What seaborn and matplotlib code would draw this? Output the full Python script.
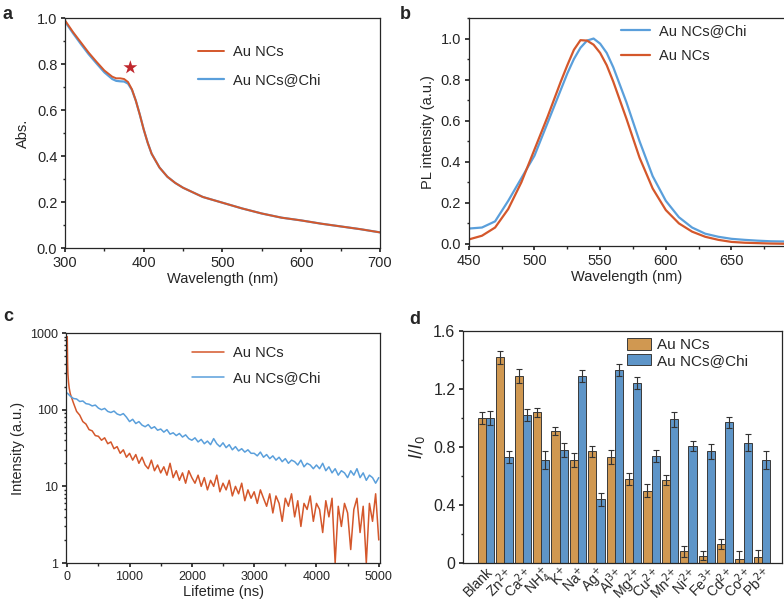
import matplotlib
matplotlib.use("Agg")

import matplotlib.pyplot as plt
import matplotlib.ticker as mticker
import pandas as pd
import seaborn as sns

# ---- panel a: UV-vis absorption ----
abs_wavelength = [300, 310, 320, 330, 340, 350, 360, 365, 370, 375, 380, 385, 390, 395,
                  400, 405, 410, 420, 430, 440, 450, 475, 500, 525, 550, 575, 600, 625,
                  650, 675, 700]
abs_au = [0.99, 0.94, 0.895, 0.85, 0.81, 0.772, 0.745, 0.738, 0.738, 0.735, 0.722, 0.69,
          0.64, 0.58, 0.515, 0.458, 0.41, 0.35, 0.31, 0.283, 0.262, 0.222, 0.197, 0.172,
          0.15, 0.132, 0.12, 0.106, 0.094, 0.082, 0.068]
abs_chi = [0.985, 0.935, 0.888, 0.843, 0.803, 0.764, 0.735, 0.727, 0.725, 0.724, 0.715, 0.688,
           0.64, 0.58, 0.515, 0.458, 0.41, 0.35, 0.31, 0.283, 0.262, 0.222, 0.197, 0.172,
           0.15, 0.132, 0.12, 0.106, 0.094, 0.082, 0.068]
star_wavelength = [383]
star_abs = [0.785]

# ---- panel b: PL spectra ----
pl_wavelength = [450, 460, 470, 480, 490, 500, 510, 520, 525, 530, 535, 540, 545, 550, 555,
                 560, 570, 580, 590, 600, 610, 620, 630, 640, 650, 660, 670, 680, 690]
pl_au = [0.022, 0.04, 0.08, 0.17, 0.30, 0.46, 0.62, 0.79, 0.87, 0.945, 0.992, 0.99, 0.97,
         0.93, 0.87, 0.79, 0.61, 0.42, 0.27, 0.165, 0.10, 0.06, 0.035, 0.02, 0.01, 0.006,
         0.004, 0.002, 0.001]
pl_chi = [0.075, 0.08, 0.11, 0.21, 0.32, 0.43, 0.59, 0.75, 0.83, 0.90, 0.955, 0.99, 1.0,
          0.975, 0.93, 0.86, 0.69, 0.50, 0.33, 0.21, 0.13, 0.08, 0.05, 0.035, 0.025, 0.02,
          0.016, 0.013, 0.012]

# ---- panel c: lifetime decay (time in ns) ----
decay_time_au = [0, 5, 10, 20, 30, 40] + list(range(50, 5001, 50))
decay_au = [900, 420, 300, 230, 195, 175,
            160, 122, 95, 85, 70, 65, 55, 53, 46, 45, 40, 43, 36, 38, 31, 33, 27, 30, 24, 27,
            22, 26, 20, 24, 19, 17, 22, 16, 19, 15, 18, 14, 20, 13, 16, 12, 15, 11, 16, 13,
            11, 14, 10, 13, 9, 12, 10, 14, 8.5, 11, 9, 12, 7.5, 10, 8, 11, 6.5, 9, 7, 8.5,
            6, 9, 7, 5.5, 8, 4.5, 7.5, 6, 3.5, 7, 5.5, 8, 4, 6.5, 3, 6, 5, 7.5, 3.5, 6,
            5, 2.5, 6.5, 4, 7, 1, 5.5, 3, 6, 4.5, 1.5, 5, 7, 2.5, 5.5, 1, 6, 3.5, 8, 2]
decay_time_chi = list(range(0, 5001, 50))
decay_chi = [165, 150, 140, 138, 128, 130, 120, 118, 112, 115, 105, 100, 104, 95, 92, 96, 88,
             85, 89, 80,
             70, 75, 66, 70, 63, 60, 64, 57, 60, 54, 56, 51, 55, 48, 50, 46, 49, 44, 47, 42,
             40, 43, 38, 41, 36, 39, 35, 42, 36, 33, 37, 32, 35, 30, 33, 29, 31, 28, 30, 27,
             27, 25, 28, 24, 26, 23, 25, 22, 24, 21, 23, 20, 22, 21, 19, 22, 18, 20, 19, 17,
             19, 17, 20, 16, 18, 15, 17, 14, 16, 15, 13, 16, 14, 17, 13, 15, 12, 14, 13, 11,
             13]

# ---- panel d: ion response ----
ions = ["Blank", "Zn$^{2{+}}$", "Ca$^{2{+}}$", "NH$_4^{+}$", "K$^{+}$", "Na$^{+}$",
        "Ag$^{+}$", "Al$^{3{+}}$", "Mg$^{2{+}}$", "Cu$^{2{+}}$", "Mn$^{2{+}}$", "Ni$^{2{+}}$",
        "Fe$^{3{+}}$", "Cd$^{2{+}}$", "Co$^{2{+}}$", "Pb$^{2{+}}$"]
ratio_au = [1.0, 1.42, 1.29, 1.04, 0.91, 0.71, 0.77, 0.73, 0.58, 0.50, 0.57, 0.08, 0.05,
            0.13, 0.025, 0.04]
err_au = [0.04, 0.045, 0.045, 0.03, 0.025, 0.05, 0.04, 0.05, 0.04, 0.048, 0.035, 0.04, 0.03,
          0.035, 0.055, 0.05]
ratio_chi = [1.0, 0.73, 1.02, 0.71, 0.78, 1.29, 0.44, 1.33, 1.24, 0.74, 0.99, 0.81, 0.77,
             0.97, 0.83, 0.71]
err_chi = [0.05, 0.04, 0.04, 0.06, 0.05, 0.04, 0.045, 0.04, 0.04, 0.04, 0.05, 0.035, 0.05,
           0.04, 0.06, 0.06]

RED = "#D4572B"
BLUE = "#5A9FDB"
BAR_ORANGE = "#E59A3C"
BAR_BLUE = "#4C95DA"

sns.set_theme(style="ticks")
plt.rcParams["font.family"] = ["Liberation Sans", "DejaVu Sans"]
plt.rcParams["font.size"] = 10.5
plt.rcParams["axes.linewidth"] = 0.9
plt.rcParams["xtick.labelsize"] = 10.5
plt.rcParams["ytick.labelsize"] = 10.5
plt.rcParams["axes.labelsize"] = 10.5
plt.rcParams["legend.fontsize"] = 10.5
plt.rcParams["xtick.major.size"] = 3
plt.rcParams["ytick.major.size"] = 3
plt.rcParams["xtick.minor.size"] = 1.8
plt.rcParams["ytick.minor.size"] = 1.8
plt.rcParams["xtick.major.pad"] = 2.5
plt.rcParams["ytick.major.pad"] = 2.5

fig = plt.figure(figsize=(7.84, 6.10), dpi=100)
ax_a = fig.add_axes([0.0829, 0.5934, 0.4018, 0.377])
ax_b = fig.add_axes([0.598, 0.5967, 0.402, 0.3738])
ax_c = fig.add_axes([0.0842, 0.077, 0.4005, 0.377])
ax_d = fig.add_axes([0.5906, 0.077, 0.4069, 0.3803])

# a
sns.lineplot(x=abs_wavelength, y=abs_chi, ax=ax_a, color=BLUE, lw=1.6, label="Au NCs@Chi")
sns.lineplot(x=abs_wavelength, y=abs_au, ax=ax_a, color=RED, lw=1.4, label="Au NCs")
sns.scatterplot(x=star_wavelength, y=star_abs, ax=ax_a, marker="*", s=110, color="#C0272D",
                edgecolor="none", legend=False)
ax_a.set_xlim(300, 700)
ax_a.set_ylim(0, 1.0)
ax_a.xaxis.set_major_locator(mticker.MultipleLocator(100))
ax_a.xaxis.set_minor_locator(mticker.MultipleLocator(50))
ax_a.yaxis.set_major_locator(mticker.MultipleLocator(0.2))
ax_a.yaxis.set_minor_locator(mticker.MultipleLocator(0.1))
ax_a.yaxis.set_major_formatter(mticker.FormatStrFormatter("%.1f"))
ax_a.set_xlabel("Wavelength (nm)", labelpad=2)
ax_a.set_ylabel("Abs.", labelpad=5)
h, l = ax_a.get_legend_handles_labels()
ax_a.legend(h[::-1], l[::-1], frameon=False, loc="upper left", bbox_to_anchor=(0.38, 0.94),
            handlelength=1.8, labelspacing=0.95, handletextpad=0.6)

# b
sns.lineplot(x=pl_wavelength, y=pl_chi, ax=ax_b, color=BLUE, lw=1.6, label="Au NCs@Chi")
sns.lineplot(x=pl_wavelength, y=pl_au, ax=ax_b, color=RED, lw=1.6, label="Au NCs")
ax_b.set_xlim(450, 690)
ax_b.set_ylim(-0.01, 1.1)
ax_b.xaxis.set_major_locator(mticker.MultipleLocator(50))
ax_b.xaxis.set_minor_locator(mticker.MultipleLocator(25))
ax_b.yaxis.set_major_locator(mticker.MultipleLocator(0.2))
ax_b.yaxis.set_minor_locator(mticker.MultipleLocator(0.1))
ax_b.yaxis.set_major_formatter(mticker.FormatStrFormatter("%.1f"))
ax_b.set_xlabel("Wavelength (nm)", labelpad=2)
ax_b.set_ylabel("PL intensity (a.u.)", labelpad=4)
ax_b.spines["right"].set_visible(False)
ax_b.legend(frameon=False, loc="upper left", bbox_to_anchor=(0.44, 1.03),
            handlelength=2.0, labelspacing=0.75, handletextpad=0.6)

# c
sns.lineplot(x=decay_time_au, y=decay_au, ax=ax_c, color=RED, lw=1.1, label="Au NCs")
sns.lineplot(x=decay_time_chi, y=decay_chi, ax=ax_c, color=BLUE, lw=1.1, label="Au NCs@Chi")
ax_c.set_yscale("log")
ax_c.set_ylim(1, 1000)
ax_c.set_xlim(-20, 5020)
ax_c.xaxis.set_major_locator(mticker.MultipleLocator(1000))
ax_c.xaxis.set_minor_locator(mticker.MultipleLocator(500))
ax_c.yaxis.set_major_formatter(mticker.FuncFormatter(lambda v, p: f"{v:g}"))
ax_c.tick_params(labelsize=9)
ax_c.set_xlabel("Lifetime (ns)", labelpad=2)
ax_c.set_ylabel("Intensity (a.u.)", labelpad=4)
ax_c.legend(frameon=False, loc="upper left", bbox_to_anchor=(0.36, 1.0),
            handlelength=2.2, labelspacing=0.75, handletextpad=0.6)

# d
bars = pd.DataFrame({
    "ion": ions * 2,
    "value": ratio_au + ratio_chi,
    "err": err_au + err_chi,
    "sample": ["Au NCs"] * len(ions) + ["Au NCs@Chi"] * len(ions),
})
sns.barplot(data=bars, x="ion", y="value", hue="sample", ax=ax_d,
            palette=[BAR_ORANGE, BAR_BLUE], width=0.9, gap=0, errorbar=None,
            edgecolor="#3a3a3a", linewidth=0.7)
for container, sample in zip(ax_d.containers, ["Au NCs", "Au NCs@Chi"]):
    sub = bars[bars["sample"] == sample]
    xs = [p.get_x() + p.get_width() / 2 for p in container.patches]
    ax_d.errorbar(xs, sub["value"], yerr=sub["err"], fmt="none", ecolor="#333333",
                  elinewidth=0.8, capsize=2, capthick=0.8)
ax_d.set_xlim(-1.25, 16.09)
ax_d.set_ylim(0, 1.6)
ax_d.yaxis.set_major_locator(mticker.MultipleLocator(0.4))
ax_d.yaxis.set_minor_locator(mticker.MultipleLocator(0.2))
ax_d.yaxis.set_major_formatter(mticker.FuncFormatter(lambda v, p: "0" if v == 0 else f"{v:.1f}"))
ax_d.tick_params(axis="y", labelsize=11.5)
ax_d.tick_params(axis="x", length=0, pad=1, labelsize=10)
plt.setp(ax_d.get_xticklabels(), rotation=45, ha="right", rotation_mode="anchor")
ax_d.set_xlabel("")
ax_d.set_ylabel("$I/I_0$", labelpad=4, fontsize=12)
ax_d.legend(frameon=False, loc="upper left", bbox_to_anchor=(0.47, 1.03), title=None,
            fontsize=11, handlelength=1.6, handleheight=0.8, labelspacing=0.1,
            handletextpad=0.4)

for ax in (ax_a, ax_c, ax_d):
    ax.spines["right"].set_visible(True)
    ax.spines["top"].set_visible(True)

# panel letters
fig.text(0.003, 0.99, "a", fontsize=13, fontweight="bold", va="top")
fig.text(0.51, 0.99, "b", fontsize=13, fontweight="bold", va="top")
fig.text(0.004, 0.495, "c", fontsize=13, fontweight="bold", va="top")
fig.text(0.522, 0.49, "d", fontsize=13, fontweight="bold", va="top")

fig.savefig("out.png", dpi=100)
